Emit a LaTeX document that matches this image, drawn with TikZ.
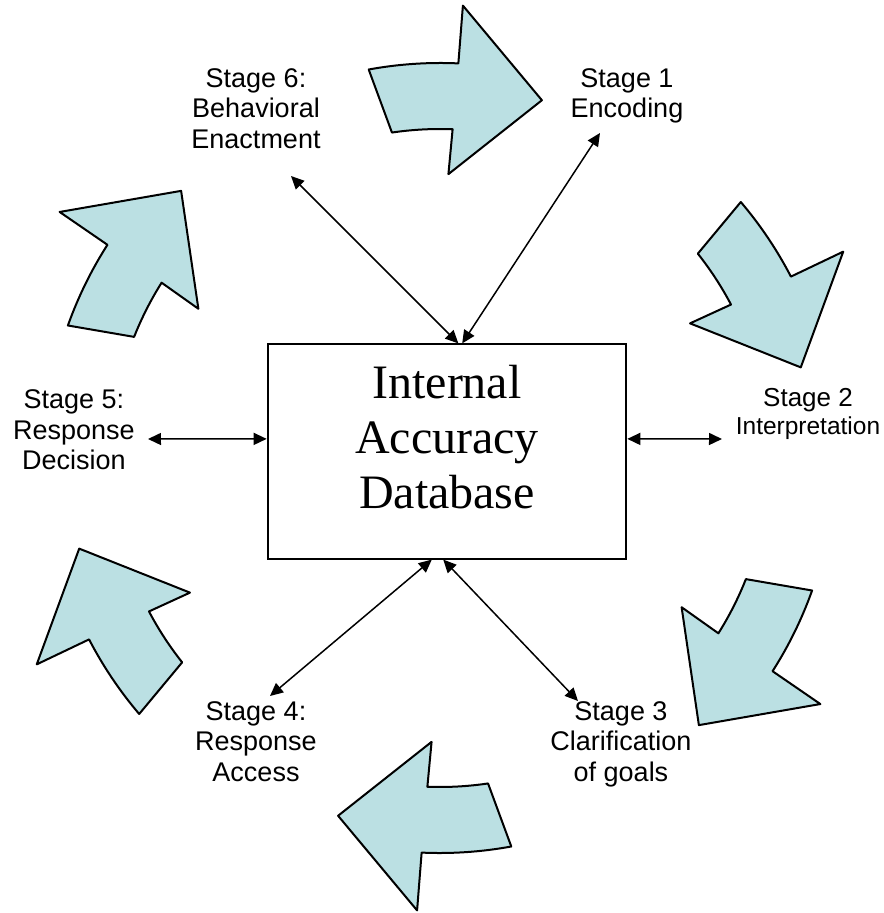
\documentclass[tikz,border=0pt]{standalone}
\usepackage{fontspec}
\setmainfont{Liberation Serif}
\setsansfont{Liberation Sans}
\usetikzlibrary{arrows.meta}
\definecolor{cyclefill}{RGB}{187,224,227}

\begin{document}
\begin{tikzpicture}[x=1bp,y=1bp,
  stagelabel/.style={align=center,anchor=north,font=\sffamily\fontsize{27bp}{30.5bp}\selectfont},
  link/.style={{Triangle[length=13bp,width=12bp]}-{Triangle[length=13bp,width=12bp]},line width=1.5bp},
  cyclearrow/.style={draw=black,fill=cyclefill,line width=2bp,line join=round}]
\tikzstyle{every node}+=[inner sep=0pt]
\useasboundingbox (-440,-455) rectangle (444,458);
% the six curved arrows round the cycle
\foreach \r in {0,60,...,300}
  \draw [cyclearrow,rotate=-\r] (100.4:395) arc [start angle=100.4,end angle=87.4,radius=397]
    -- (87.1:453) -- (74.1:372) -- (88.3:284) -- (87.8:329)
    arc [start angle=87.8,end angle=98.4,radius=329] -- cycle;
% database box
\node [draw,line width=2bp,minimum width=360,minimum height=215,align=center,text depth=30bp,
  font=\fontsize{48bp}{55bp}\selectfont] (db) at (7,6.5) {Internal\\Accuracy\\Database};
% stages
\node [stagelabel] (s1) at (187,390) {Stage 1\\Encoding};
\node [stagelabel,font=\sffamily\fontsize{26bp}{28.3bp}\selectfont] (s2) at (368,70.3)
  {Stage 2\\{\fontsize{24.5bp}{28.3bp}\selectfont Interpretation}};
\node [stagelabel] (s3) at (181,-243) {Stage 3\\Clarification\\of goals};
\node [stagelabel] (s4) at (-184,-243) {Stage 4:\\Response\\Access};
\node [stagelabel] (s5) at (-366,68.4) {Stage 5:\\Response\\Decision};
\node [stagelabel] (s6) at (-184,390) {Stage 6:\\Behavioral\\Enactment};
% links to the database
\coordinate (e1) at (160,325);
\coordinate (e2) at (282,19);
\coordinate (e3) at (138,-243);
\coordinate (e4) at (-170,-238);
\coordinate (e5) at (-292,19);
\coordinate (e6) at (-149,282);
\draw [link] (e1) -- (db.82);
\draw [link] (db.4) -- (e2);
\draw [link] (db.268) -- (e3);
\draw [link] (db.262) -- (e4);
\draw [link] (e5) -- (db.176);
\draw [link] (e6) -- (db.84);
\end{tikzpicture}
\end{document}
